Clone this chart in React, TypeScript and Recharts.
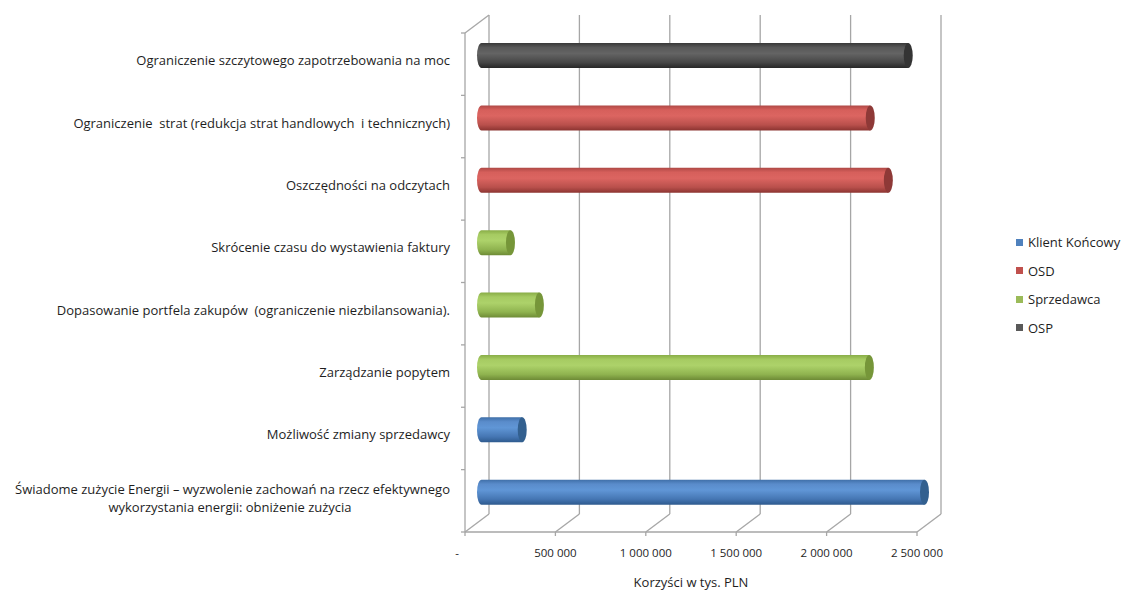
import React from 'react';
import { BarChart, Bar, XAxis, YAxis, CartesianGrid, Legend } from 'recharts';

const categories = [
  'Ograniczenie szczytowego zapotrzebowania na moc',
  'Ograniczenie  strat (redukcja strat handlowych  i technicznych)',
  'Oszczędności na odczytach',
  'Skrócenie czasu do wystawienia faktury',
  'Dopasowanie portfela zakupów  (ograniczenie niezbilansowania).',
  'Zarządzanie popytem',
  'Możliwość zmiany sprzedawcy',
  'Świadome zużycie Energii – wyzwolenie zachowań na rzecz efektywnego|wykorzystania energii: obniżenie zużycia',
];

const klientKoncowy = [null, null, null, null, null, null, 275000, 2500000];
const osd = [null, 2200000, 2300000, null, null, null, null, null];
const sprzedawca = [null, null, null, 210000, 370000, 2195000, null, null];
const osp = [2410000, null, null, null, null, null, null, null];

const xTicks = [0, 500000, 1000000, 1500000, 2000000, 2500000];
const xTickLabels = ['-', '500 000', '1 000 000', '1 500 000', '2 000 000', '2 500 000'];
const axisTitle = 'Korzyści w tys. PLN';

const seriesNames = ['Klient Końcowy', 'OSD', 'Sprzedawca', 'OSP'];
const seriesKeys = ['klient', 'osd', 'sprzedawca', 'osp'];
const legendColors = ['#4F81BD', '#C0504D', '#9BBB59', '#595959'];
const bodyStops = [
  ['#3F6FA8', '#5A8CCB', '#6096D6', '#4576B3', '#2E5A8E'],
  ['#AE4845', '#D65F5B', '#DC6561', '#B9504C', '#8C3431'],
  ['#88AC46', '#A6CB62', '#ADD26A', '#8FB34F', '#6E8B36'],
  ['#383838', '#585858', '#646464', '#464646', '#272727'],
];
const capColors = ['#33608F', '#8E3937', '#769639', '#343434'];

const data = categories.map((name, i) => ({
  name,
  klient: klientKoncowy[i],
  osd: osd[i],
  sprzedawca: sprzedawca[i],
  osp: osp[i],
}));

const DX = 12;
const DY = 9;
const GRID = '#A6A6A6';
const FONT = '"Open Sans", sans-serif';
const TEXT = '#1E1E1E';

function makeCylinder(si: number) {
  return (props: any) => {
    const { x, y, width, height } = props;
    if (!width || width <= 0 || !height) return null;
    const rx = 4.5;
    const ry = height / 2;
    const id = `cyl-grad-${si}`;
    const st = bodyStops[si];
    const d = `M ${x + rx} ${y} L ${x + width - rx} ${y} L ${x + width - rx} ${y + height} L ${x + rx} ${y + height} A ${rx} ${ry} 0 0 1 ${x + rx} ${y} Z`;
    return (
      <g>
        <defs>
          <linearGradient id={id} x1="0" y1="0" x2="0" y2="1">
            <stop offset="0%" stopColor={st[0]} />
            <stop offset="18%" stopColor={st[1]} />
            <stop offset="42%" stopColor={st[2]} />
            <stop offset="78%" stopColor={st[3]} />
            <stop offset="100%" stopColor={st[4]} />
          </linearGradient>
        </defs>
        <path d={d} fill={`url(#${id})`} />
        <ellipse cx={x + width - rx} cy={y + ry} rx={rx} ry={ry} fill={capColors[si]} />
      </g>
    );
  };
}

const cylinderShapes = seriesKeys.map((_, i) => makeCylinder(i));

function gridLine(props: any) {
  const { x1, y1, y2, index, x, y, width, height } = props;
  const fy = y2 + DY;
  const parts: any[] = [];
  parts.push(<line key="b" x1={x1 + DX} y1={y1 - DY} x2={x1 + DX} y2={y2 - DY} />);
  parts.push(<line key="d" x1={x1 + DX} y1={y2 - DY} x2={x1 - DX} y2={fy} />);
  parts.push(<line key="t" x1={x1 - DX} y1={fy} x2={x1 - DX} y2={fy + 4} />);
  if (index === 0) {
    parts.push(<line key="fh" x1={x - DX} y1={y + height + DY} x2={x + width - DX} y2={y + height + DY} />);
    parts.push(<line key="fv" x1={x - DX} y1={y + DY} x2={x - DX} y2={y + height + DY} />);
    parts.push(<line key="td" x1={x - DX} y1={y + DY} x2={x + DX} y2={y - DY} />);
    const n = categories.length;
    for (let k = 0; k <= n; k++) {
      const ty = y + DY + (k * height) / n;
      parts.push(<line key={`ct${k}`} x1={x - DX - 4} y1={ty} x2={x - DX} y2={ty} />);
    }
  }
  return (
    <g key={`grid-${index}`} stroke={GRID} strokeWidth={1.3} fill="none">
      {parts}
    </g>
  );
}

const textStyle: any = { whiteSpace: 'pre' };

function YTick(props: any) {
  const { x, y, payload } = props;
  const lines = String(payload.value).split('|');
  const endX = x - 27;
  if (lines.length === 1) {
    return (
      <text x={endX} y={y + 10} textAnchor="end" fontFamily={FONT} fontSize={13} fill={TEXT} style={textStyle}>
        {lines[0]}
      </text>
    );
  }
  return (
    <g>
      <text x={endX} y={y + 2} textAnchor="end" fontFamily={FONT} fontSize={13} fill={TEXT} style={textStyle}>
        {lines[0]}
      </text>
      <text x={endX - 220} y={y + 20} textAnchor="middle" fontFamily={FONT} fontSize={13} fill={TEXT} style={textStyle}>
        {lines[1]}
      </text>
    </g>
  );
}

function XTick(props: any) {
  const { x, y, payload } = props;
  const i = xTicks.indexOf(payload.value);
  const label = i >= 0 ? xTickLabels[i] : String(payload.value);
  const fx = x - DX - (i === 0 ? 8 : 0);
  return (
    <text x={fx} y={y + 34} textAnchor="middle" fontFamily={FONT} fontSize={11.5} fill={TEXT}>
      {label}
    </text>
  );
}

function renderTitle(props: any) {
  const vb = props.viewBox || {};
  const cx = (vb.x || 0) + (vb.width || 0) / 2 - DX;
  const cy = (vb.y || 0) + 64;
  return (
    <text x={cx} y={cy} textAnchor="middle" fontFamily={FONT} fontSize={13} fill={TEXT}>
      {axisTitle}
    </text>
  );
}

function LegendContent() {
  return (
    <div style={{ fontFamily: FONT, fontSize: 13, color: TEXT }}>
      {seriesNames.map((n, i) => (
        <div key={n} style={{ height: 28.5, display: 'flex', alignItems: 'center' }}>
          <span style={{ display: 'inline-block', width: 7, height: 7, background: legendColors[i], marginRight: 5 }} />
          <span>{n}</span>
        </div>
      ))}
    </div>
  );
}

export default function App() {
  return (
    <div style={{ position: 'absolute', left: 0, top: 0, width: 1122, height: 590, background: '#fff' }}>
      <BarChart
        width={1122}
        height={590}
        data={data}
        layout="vertical"
        margin={{ top: 24, right: 193, bottom: 7, left: 7 }}
        barSize={25}
      >
        <CartesianGrid horizontal={false} vertical={gridLine as any} stroke={GRID} />
        <XAxis
          type="number"
          domain={[0, 2500000]}
          ticks={xTicks}
          height={60}
          tickSize={0}
          tickMargin={0}
          axisLine={false}
          tickLine={false}
          tick={<XTick />}
          interval={0}
          label={{ content: renderTitle } as any}
        />
        <YAxis
          type="category"
          dataKey="name"
          width={470}
          tickSize={0}
          tickMargin={0}
          axisLine={false}
          tickLine={false}
          tick={<YTick />}
          interval={0}
        />
        <Legend
          layout="horizontal"
          verticalAlign="middle"
          align="center"
          content={<LegendContent />}
          wrapperStyle={{ left: 1016, top: 228, width: 120 }}
        />
        {seriesKeys.map((k, i) => (
          <Bar
            key={k}
            dataKey={k}
            name={seriesNames[i]}
            stackId="s"
            fill={legendColors[i]}
            shape={cylinderShapes[i] as any}
            isAnimationActive={false}
          />
        ))}
      </BarChart>
    </div>
  );
}
